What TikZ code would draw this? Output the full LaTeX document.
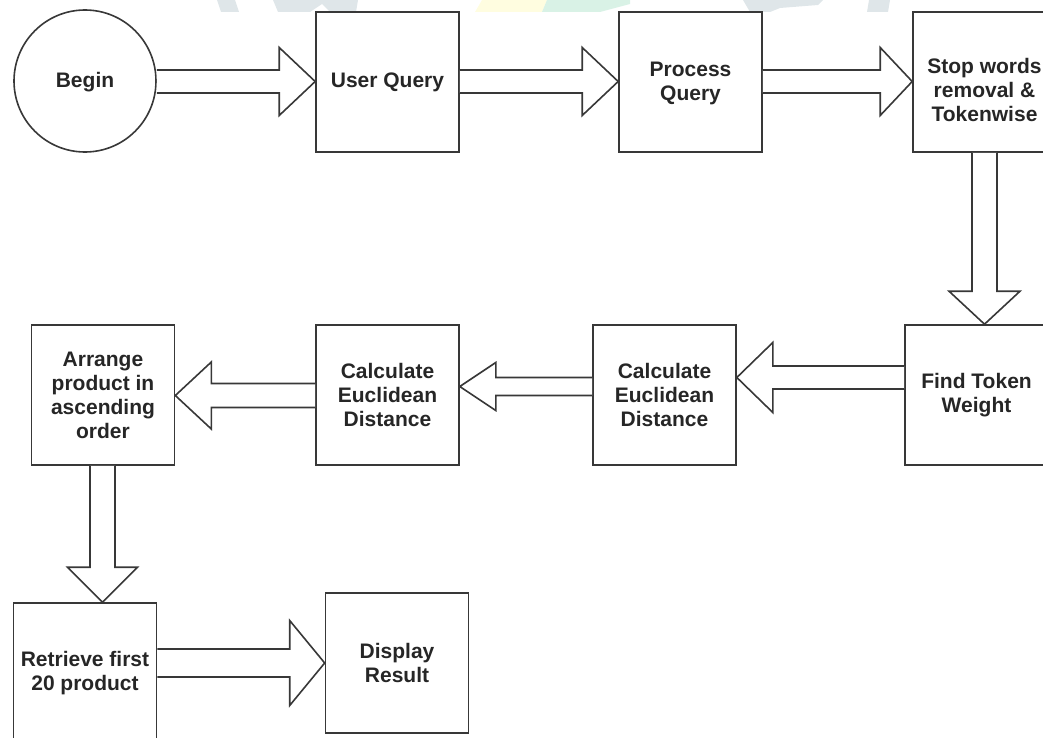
\documentclass[tikz,border=0pt]{standalone}
\usepackage{fontspec}
\setmainfont{Liberation Sans}
\usetikzlibrary{calc}
\definecolor{ln}{HTML}{383838}
\definecolor{txt}{HTML}{262626}
\definecolor{wmgray}{HTML}{DFE6E9}
\definecolor{wmyellow}{HTML}{FFFDE0}
\definecolor{wmgreen}{HTML}{D9F2E6}
\tikzset{
  box/.style={draw=ln, text=txt, line width=0.8pt, minimum width=71.5pt, minimum height=70pt,
    inner sep=0pt, align=center, font=\fontsize{10.5}{12}\selectfont\bfseries},
  startnode/.style={draw=ln, text=txt, line width=0.8pt, circle, minimum size=71pt,
    inner sep=0pt, font=\fontsize{10.5}{12}\selectfont\bfseries},
  blk/.style={draw=ln, line width=0.8pt, fill=white, line join=miter}
}
% lowered text of zero size, so that the node shape stays centred
\newcommand\lowtext[2]{\raisebox{#1}[0pt][0pt]{\begin{tabular}{@{}c@{}}#2\end{tabular}}}
% block arrows: from, to, centre line (px), shaft half, head half, head length (pt)
\newcommand\arrR[6]{\draw[blk] let \p1=(#1.east |- 0,#3), \p2=(#2.west |- 0,#3) in
  (\x1,\y1+#4) -- (\x2-#6,\y1+#4) -- (\x2-#6,\y1+#5) -- (\x2,\y1) -- (\x2-#6,\y1-#5) -- (\x2-#6,\y1-#4) -- (\x1,\y1-#4);}
\newcommand\arrL[6]{\draw[blk] let \p1=(#1.west |- 0,#3), \p2=(#2.east |- 0,#3) in
  (\x1,\y1+#4) -- (\x2+#6,\y1+#4) -- (\x2+#6,\y1+#5) -- (\x2,\y1) -- (\x2+#6,\y1-#5) -- (\x2+#6,\y1-#4) -- (\x1,\y1-#4);}
\newcommand\arrD[6]{\draw[blk] let \p1=(#1.south -| #3,0), \p2=(#2.north -| #3,0) in
  (\x1-#4,\y1) -- (\x1-#4,\y2+#6) -- (\x1-#5,\y2+#6) -- (\x1,\y2) -- (\x1+#5,\y2+#6) -- (\x1+#4,\y2+#6) -- (\x1+#4,\y1);}
\begin{document}
\begin{tikzpicture}[x=0.5pt,y=-0.5pt]
\useasboundingbox (0,0) rectangle (1043,738);
\clip (0,0) rectangle (1043,738);
% faint watermark remnants at the top edge
\fill[wmgray] (217,0) -- (235,0) -- (239,12) -- (221,12) -- cycle;
\fill[wmgray] (273,0) -- (358,0) -- (356,12) -- (330,12) -- (322,4) -- (310,12) -- (278,12) -- cycle;
\fill[wmyellow] (482,0) -- (547,0) -- (542,12) -- (475,12) -- cycle;
\fill[wmgreen] (547,0) -- (630,0) -- (630,4) -- (600,12) -- (542,12) -- cycle;
\fill[wmgray] (743,0) -- (823,0) -- (818,5) -- (780,8) -- (770,12) -- (750,12) -- cycle;
\fill[wmgray] (869,0) -- (890,0) -- (888,12) -- (867,12) -- cycle;

% nodes
\node[startnode] (begin) at (85,81) {\lowtext{-3.6pt}{Begin}};
\node[box] (uq) at (387.5,82) {\lowtext{-3.2pt}{User Query}};
\node[box] (pq) at (690.5,82) {\lowtext{-3.6pt}{Process\\Query}};
\node[box] (stop) at (984.5,82) {\lowtext{-8.1pt}{Stop words\\removal \&\\Tokenwise}};
\node[box] (ftw) at (976.5,395) {Find Token\\Weight};
\node[box] (cer) at (664.5,395) {Calculate\\Euclidean\\Distance};
\node[box] (cel) at (387.5,395) {Calculate\\Euclidean\\Distance};
\node[box] (arr) at (103,395) {Arrange\\product in\\ascending\\order};
\node[box] (ret) at (85,673) {\lowtext{-3.1pt}{Retrieve first\\20 product}};
\node[box] (disp) at (397,663) {Display\\Result};

% block arrows
\arrR{begin}{uq}{81.5}{5.75pt}{17pt}{18pt}
\arrR{uq}{pq}{81.5}{5.75pt}{17pt}{18pt}
\arrR{pq}{stop}{81.5}{5.75pt}{17pt}{16pt}
\arrD{stop}{ftw}{984.5}{6.25pt}{17.75pt}{16.5pt}
\arrL{ftw}{cer}{377.5}{5.75pt}{17.5pt}{18pt}
\arrL{cer}{cel}{386.5}{4.5pt}{12pt}{18pt}
\arrL{cel}{arr}{395.5}{6pt}{16.75pt}{18pt}
\arrD{arr}{ret}{102.5}{6.25pt}{17.5pt}{17.5pt}
\arrR{ret}{disp}{663}{7pt}{21.25pt}{17.5pt}
\end{tikzpicture}
\end{document}
